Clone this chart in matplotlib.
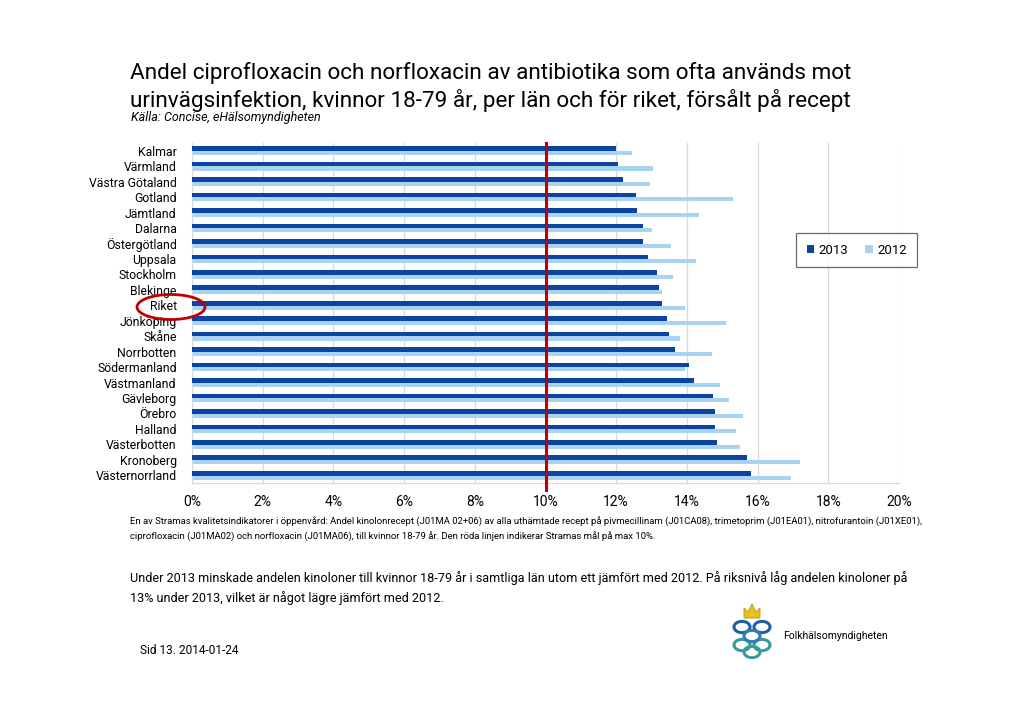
import matplotlib
matplotlib.use("Agg")
from matplotlib import pyplot as plt
from matplotlib.patches import Ellipse, Circle, Polygon
import numpy as np

# Data (percent)
regions = ["Kalmar", "Värmland", "Västra Götaland", "Gotland", "Jämtland", "Dalarna",
           "Östergötland", "Uppsala", "Stockholm", "Blekinge", "Riket", "Jönköping",
           "Skåne", "Norrbotten", "Södermanland", "Västmanland", "Gävleborg", "Örebro",
           "Halland", "Västerbotten", "Kronoberg", "Västernorrland"]
share_2013 = [12.0, 12.05, 12.2, 12.55, 12.6, 12.75, 12.75, 12.9, 13.15, 13.2, 13.3, 13.45,
              13.5, 13.65, 14.05, 14.2, 14.75, 14.8, 14.8, 14.85, 15.7, 15.8]
share_2012 = [12.45, 13.05, 12.95, 15.3, 14.35, 13.0, 13.55, 14.25, 13.6, 13.3, 13.95, 15.1,
              13.8, 14.7, 13.95, 14.95, 15.2, 15.6, 15.4, 15.5, 17.2, 16.95]
xticks = [0, 2, 4, 6, 8, 10, 12, 14, 16, 18, 20]
target = 10

W, H = 1024, 722
DARK = "#0c44a4"
LIGHT = "#a9d3f3"
RED = "#c00000"
FONT = "Roboto"


def px(x, y):
    return x / W, 1 - y / H


fig = plt.figure(figsize=(W / 100, H / 100), dpi=100)
fig.patch.set_facecolor("white")

left, right, top, bottom = 192, 899, 143, 483
ax = fig.add_axes([left / W, 1 - bottom / H, (right - left) / W, (bottom - top) / H])

y = np.arange(len(regions))
ax.barh(y - 0.13, share_2013, height=0.3, color=DARK, label="2013", zorder=3)
ax.barh(y + 0.15, share_2012, height=0.26, color=LIGHT, label="2012", zorder=2)
ax.axvline(target, color=RED, lw=2.2, zorder=4, ymin=-0.02, clip_on=False)

ax.set_xlim(0, 20)
ax.set_ylim(len(regions) - 0.5, -0.5)
ax.set_xticks(xticks)
ax.set_xticklabels([f"{t}%" for t in xticks], fontsize=10, family=FONT)
ax.set_yticks(y)
ax.set_yticklabels(regions, fontsize=8.8, family=FONT)
ax.tick_params(axis="both", length=0)
ax.tick_params(axis="x", pad=9)
ax.tick_params(axis="y", pad=11)
ax.grid(axis="x", color="#d9d9d9", lw=0.9, zorder=0)
for s in ["top", "right"]:
    ax.spines[s].set_visible(False)
ax.spines["bottom"].set_color("#d9d9d9")
ax.spines["left"].set_color("#d9d9d9")

leg = ax.legend(loc="center", bbox_to_anchor=(0.94, 0.685), ncol=2, frameon=True,
                fancybox=False, edgecolor="#444444", handlelength=0.6,
                handleheight=0.6, handletextpad=0.3, columnspacing=1.3, borderpad=0.8,
                borderaxespad=0, prop={"family": FONT, "size": 9.5})
leg.get_frame().set_linewidth(0.9)

# red ring around "Riket"
fig.patches.append(Ellipse(px(171, 307), 68 / W, 25 / H, transform=fig.transFigure,
                           fill=False, edgecolor=RED, lw=2))

# titles
fig.text(*px(130, 73), "Andel ciprofloxacin och norfloxacin av antibiotika som ofta används mot",
         fontsize=16.2, family=FONT, va="center")
fig.text(*px(130, 100), "urinvägsinfektion, kvinnor 18-79 år, per län och för riket, försålt på recept",
         fontsize=16.2, family=FONT, va="center")
fig.text(*px(131, 118), "Källa: Concise, eHälsomyndigheten", fontsize=9, style="italic",
         family=FONT, va="center")

# footnote
fig.text(*px(130, 522), "En av Stramas kvalitetsindikatorer i öppenvård: Andel kinolonrecept (J01MA 02+06) av alla "
         "uthämtade recept på pivmecillinam (J01CA08), trimetoprim (J01EA01), nitrofurantoin (J01XE01),",
         fontsize=6.8, family=FONT, va="center")
fig.text(*px(130, 537), "ciprofloxacin (J01MA02) och norfloxacin (J01MA06), till kvinnor 18-79 år. "
         "Den röda linjen indikerar Stramas mål på max 10%.",
         fontsize=6.8, family=FONT, va="center")

# body text
fig.text(*px(130, 578), "Under 2013 minskade andelen kinoloner till kvinnor 18-79 år i samtliga län utom ett "
         "jämfört med 2012. På riksnivå låg andelen kinoloner på",
         fontsize=9.1, family=FONT, va="center")
fig.text(*px(130, 598), "13% under 2013, vilket är något lägre jämfört med 2012.",
         fontsize=9.1, family=FONT, va="center")

fig.text(*px(140, 651), "Sid 13. 2014-01-24", fontsize=8.6, family=FONT, va="center")

# simple logo
fig.text(*px(783, 636), "Folkhälsomyndigheten", fontsize=7.5, family=FONT, va="center")
fig.patches.append(Polygon([px(744, 618), px(744, 608), px(748, 612), px(752, 604),
                            px(756, 612), px(760, 608), px(760, 618)],
                           closed=True, transform=fig.transFigure, facecolor="#e8c21e",
                           edgecolor="#b8960c", lw=0.6))
for cx, cy, col in [(742, 627, "#1f5fa8"), (762, 627, "#1f5fa8"), (742, 645, "#3a9a9a"),
                    (762, 645, "#3a9a9a"), (752, 636, "#2f7fb0"), (752, 652, "#3a9a9a")]:
    fig.patches.append(Circle(px(cx, cy), 8 / W, transform=fig.transFigure, fill=False,
                              edgecolor=col, lw=2.2))

fig.savefig("out.png", dpi=100, facecolor="white")
